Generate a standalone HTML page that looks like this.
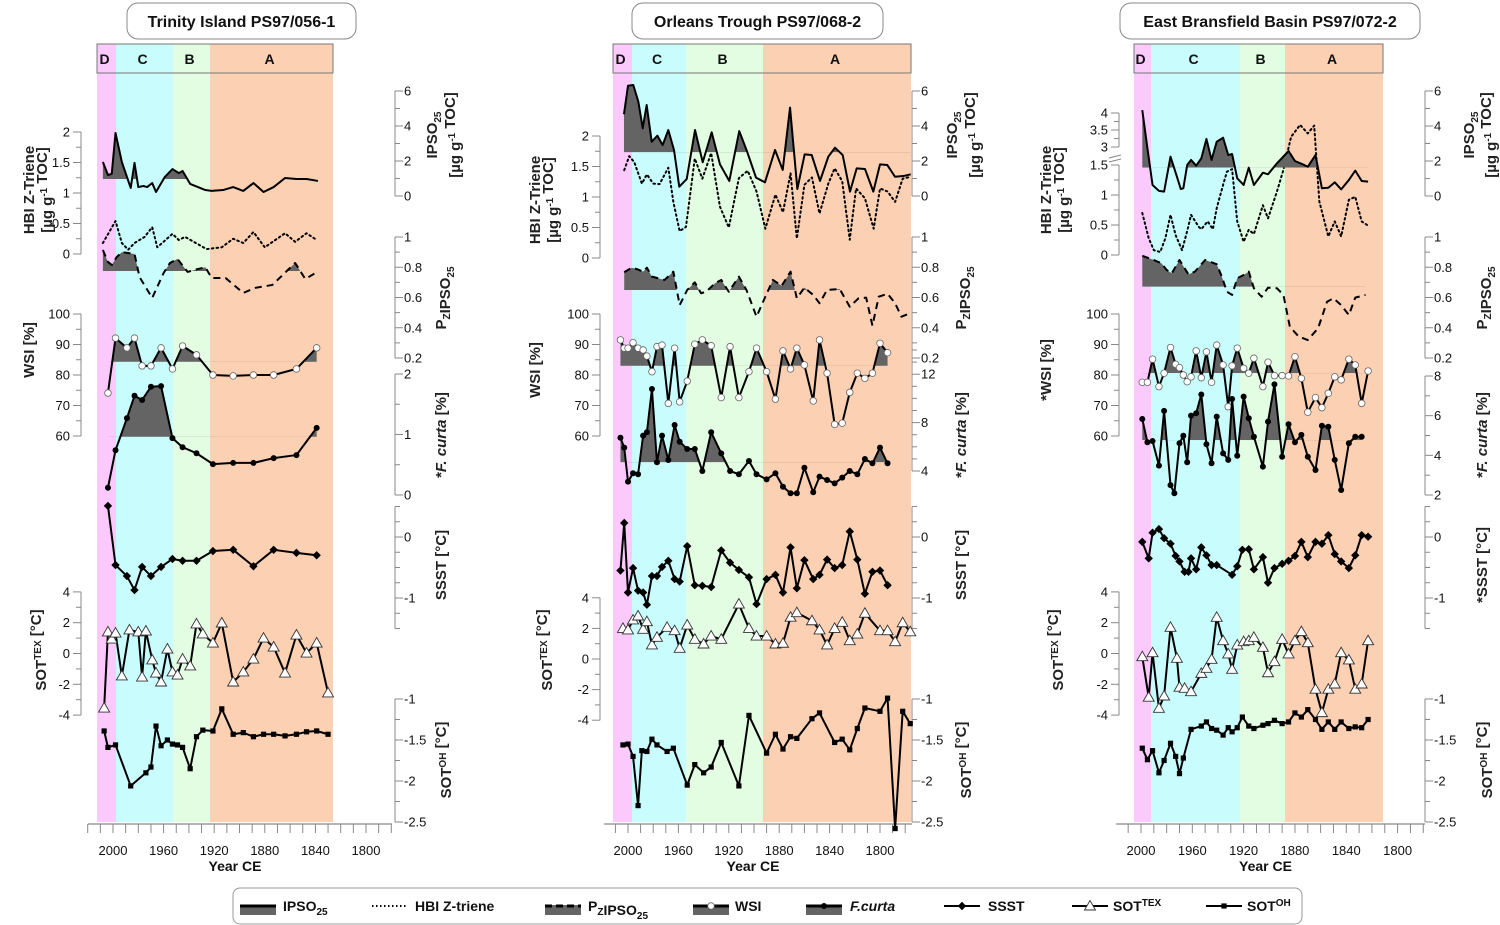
<!DOCTYPE html>
<html><head><meta charset="utf-8"><style>
html,body{margin:0;padding:0;background:#fff}
svg{display:block;font-family:"Liberation Sans",Arial,sans-serif}
</style></head><body>
<svg id="chart" width="1500" height="925" viewBox="0 0 1500 925" xmlns="http://www.w3.org/2000/svg"></svg>
<script>
// ---------- DATA (years CE, values in axis units) ----------
// Panel 1 Trinity Island
const p1IpsoYears=[2008,2004,2001,1998,1993,1986,1983,1980,1976,1973,1969,1966,1959,1953,1948,1945,1939,1927,1922,1913,1905,1897,1889,1881,1873,1864,1855,1847,1838];
const p1IpsoVals=[1.94,1.2,1.26,3.6,1.94,0.46,1.89,0.51,0.57,0.51,0.74,0.23,1.09,1.54,1.31,1.43,0.69,0.34,0.29,0.34,0.51,0.29,0.74,0.23,0.51,1.03,0.97,0.97,0.86];
const p1HbiYears=[2008,1998,1993,1988,1983,1975,1969,1965,1953,1948,1943,1926,1914,1905,1897,1889,1880,1864,1856,1847,1839];
const p1HbiVals=[0.18,0.54,0.18,0.07,0.18,0.28,0.44,0.11,0.33,0.23,0.28,0.08,0.11,0.25,0.18,0.36,0.11,0.34,0.2,0.34,0.23];
const p1PzYears=[2008,2004,2001,1997,1993,1988,1983,1979,1969,1960,1955,1949,1941,1933,1927,1922,1911,1897,1888,1874,1862,1856,1848,1840];
const p1PzVals=[0.914,0.835,0.815,0.868,0.90,0.894,0.888,0.735,0.597,0.762,0.828,0.855,0.769,0.788,0.80,0.729,0.729,0.63,0.663,0.683,0.78,0.828,0.722,0.762];
const p1WsiYears=[2004,1998,1989,1983,1977,1970,1962,1953,1945,1934,1921,1905,1889,1873,1855,1839];
const p1WsiVals=[74.1,92.1,88.9,92.1,83.0,83.0,88.9,82,89.5,86.6,80,79.7,80,80,82,88.9];
const p1FcVals=[0.12,0.74,1.27,1.64,1.57,1.79,1.80,0.94,0.79,0.69,0.51,0.53,0.53,0.61,0.66,1.11];
const p1SsstYears=[2004,1998,1989,1983,1977,1970,1962,1953,1945,1934,1921,1905,1889,1873,1855,1839];
const p1SsstVals=[0.51,-0.46,-0.64,-0.87,-0.49,-0.64,-0.49,-0.36,-0.39,-0.39,-0.23,-0.21,-0.48,-0.21,-0.26,-0.30];
const p1TexYears=[2007,2004,2001,1998,1993,1987,1980,1977,1974,1969,1966,1962,1957,1953,1949,1945,1939,1934,1929,1921,1914,1905,1897,1889,1881,1873,1864,1855,1847,1839,1830];
const p1TexVals=[-3.54,1.4,0.94,1.33,-1.46,1.53,1.4,-1.53,1.46,-0.42,-1.27,-1.85,0.29,-1.2,-1.4,-0.36,-0.81,1.92,1.27,0.68,1.98,-1.85,-1.2,-0.36,1.0,0.42,-1.27,1.2,0.03,0.68,-2.56];
const p1OhYears=[2007,2004,1998,1986,1974,1970,1966,1962,1957,1953,1949,1945,1939,1934,1929,1921,1914,1905,1897,1889,1881,1873,1864,1855,1847,1839,1830];
const p1OhVals=[-1.39,-1.59,-1.56,-2.06,-1.9,-1.83,-1.33,-1.57,-1.5,-1.55,-1.56,-1.59,-1.85,-1.46,-1.38,-1.39,-1.12,-1.43,-1.41,-1.46,-1.43,-1.43,-1.45,-1.43,-1.40,-1.39,-1.43];
// Panel 2 Orleans Trough
const p2IpsoYears=[2003.2,2000,1995.8,1991.8,1988.3,1985.2,1981.2,1976.7,1972.5,1968,1963.5,1959.3,1953.4,1946.8,1940.7,1933.6,1927,1919.6,1911.7,1905.3,1898.4,1891.3,1883.3,1877.2,1871.4,1865.6,1859.8,1854.2,1847.6,1841,1835.7,1829.6,1823.8,1818.5,1811.9,1805.3,1800,1794.2,1788.1,1781.5,1775.6];
const p2IpsoVals=[4.67,6.3,6.34,5.39,3.87,5.2,3.1,3.45,2.91,3.77,2.63,0.53,0.97,3.77,1.93,3.64,1.81,0.86,3.71,2.5,1.05,0.78,2.63,1.49,5.05,0.4,2.38,2.34,0.86,2.25,2.76,2.34,0.25,1.58,1.54,0.25,1.81,1.77,1.1,1.14,1.24];
const p2HbiYears=[2003,1999,1995,1989,1985,1980,1975,1968,1964,1959,1954,1947,1941,1934,1927,1920,1912,1905,1898,1891,1883,1877,1871,1866,1860,1854,1848,1841,1836,1830,1824,1819,1812,1805,1800,1794,1788,1782,1776];
const p2HbiVals=[1.44,1.67,1.57,1.22,1.37,1.22,1.21,1.48,0.92,0.44,0.51,1.63,1.3,1.72,0.84,0.5,1.31,1.43,1.09,0.48,1.04,0.75,1.39,0.32,1.2,1.32,0.73,1.22,1.47,1.26,0.3,1.14,0.98,0.48,1.14,1.09,0.92,1.3,1.33];
const p2PzYears=[2003,1997,1993,1988,1985,1981,1976,1971,1964,1959,1953,1947,1942,1938,1931,1926,1920,1912,1906,1898,1891,1885,1878,1871,1866,1860,1853,1848,1842,1832,1824,1817,1811,1806,1801,1794,1788,1783,1776];
const p2PzVals=[0.767,0.797,0.788,0.771,0.797,0.738,0.727,0.716,0.771,0.55,0.65,0.70,0.628,0.638,0.694,0.716,0.638,0.738,0.65,0.473,0.605,0.716,0.678,0.771,0.595,0.665,0.617,0.562,0.65,0.656,0.539,0.595,0.599,0.414,0.605,0.625,0.562,0.473,0.496];
const p2WsiYears=[2006,2003,2000,1996,1992,1988,1985,1981,1977,1973,1968,1963,1959,1953,1947,1941,1934,1926,1919,1912,1904,1898,1890,1883,1877,1871,1866,1860,1853,1848,1842,1836,1830,1824,1818,1812,1806,1800,1794];
const p2WsiVals=[91.5,88.8,88.8,90.6,88.8,88.2,86.2,81.1,89.3,89.8,70.7,88.8,71.2,78.0,90.1,91.5,89.6,72.6,89.3,72.6,81.1,88.8,81.1,72.1,87.9,82.0,88.8,83.3,71.5,91.5,80.6,63.8,64.2,74.3,80.6,78.9,80.6,90.4,87.3];
const p2FcVals=[6.75,5.93,3.12,3.81,3.73,6.92,7.2,10.78,4.72,6.92,4.91,7.8,6.42,5.82,5.82,4.0,7.2,5.46,4.0,3.73,4.83,3.73,3.31,3.81,2.70,2.16,2.16,4.27,2.24,3.53,3.26,2.98,3.45,4.0,3.73,4.99,4.64,5.93,4.64];
const p2SsstVals=[-0.55,0.23,-0.91,-0.51,-0.88,-0.91,-1.11,-0.64,-0.64,-0.49,-0.39,-0.69,-0.73,-0.15,-0.79,-0.80,-0.82,-0.22,-0.42,-0.54,-0.66,-1.10,-0.69,-0.62,-0.91,-0.17,-0.84,-0.38,-0.69,-0.62,-0.37,-0.51,-0.46,0.09,-0.37,-0.93,-0.57,-0.55,-0.79];
const p2TexYears=[2004,2000,1996,1992,1988,1985,1981,1977,1969,1963,1959,1953,1947,1940,1934,1926,1912,1904,1898,1890,1883,1877,1871,1866,1854,1848,1842,1836,1830,1824,1818,1812,1800,1794,1788,1782,1776];
const p2TexVals=[2.0,1.9,2.55,2.81,1.94,2.44,0.92,1.42,2.07,1.85,0.70,2.22,1.29,0.98,1.5,1.29,3.59,2.0,1.5,1.5,0.98,1.03,2.73,3.03,2.5,1.9,0.92,2.0,2.4,1.2,1.63,2.99,1.85,1.85,1.13,2.37,1.78];
const p2OhYears=[2004,2000,1996,1992,1989,1985,1981,1977,1969,1964,1953,1947,1940,1934,1926,1912,1904,1890,1883,1877,1871,1866,1854,1848,1836,1830,1824,1818,1812,1800,1794,1788,1782,1776];
const p2OhVals=[-1.56,-1.55,-1.70,-2.30,-1.63,-1.64,-1.49,-1.56,-1.64,-1.60,-2.05,-1.80,-1.90,-1.83,-1.53,-2.06,-1.20,-1.66,-1.43,-1.61,-1.46,-1.48,-1.24,-1.17,-1.53,-1.49,-1.62,-1.36,-1.11,-1.15,-0.99,-2.58,-1.15,-1.30];
// Panel 3 East Bransfield Basin
const p3IpsoYears=[1999,1995,1991,1986,1982,1977,1973,1969,1967,1964,1961,1957,1953,1949,1945,1941,1936,1932,1929,1925,1920,1916,1912,1905,1901,1894,1885,1880,1874,1870,1864,1859,1854,1849,1844,1838,1833,1828,1823];
const p3IpsoVals=[4.91,2.73,0.63,0.29,0.25,2.25,1.33,0.40,0.44,1.77,2.06,1.73,2.15,3.26,2.06,3.1,3.33,2.34,2.4,1.01,0.63,1.62,0.63,1.33,1.24,1.87,2.57,2.0,1.81,1.67,2.34,0.44,0.47,0.78,0.38,0.91,1.45,0.86,0.82];
const p3HbiYears=[1999,1994,1990,1985,1981,1977,1973,1968,1964,1961,1955,1953,1948,1944,1941,1936,1933,1929,1925,1920,1916,1912,1905,1901,1894,1889,1883,1876,1870,1865,1861,1854,1849,1844,1838,1833,1828,1823];
const p3HbiVals=[0.70,0.28,0.08,0.05,0.28,0.67,0.33,0.08,0.40,0.67,0.47,0.43,0.56,0.43,0.78,1.17,1.39,1.43,0.56,0.22,0.42,0.35,0.83,0.61,1.06,1.42,3.30,3.65,3.40,3.63,0.89,0.31,0.56,0.31,0.92,0.97,0.56,0.49];
const p3PzYears=[1999,1990,1984,1980,1976,1970,1963,1958,1950,1941,1937,1933,1929,1925,1920,1916,1912,1906,1901,1894,1889,1884,1877,1870,1862,1855,1850,1844,1838,1833,1825];
const p3PzVals=[0.876,0.848,0.826,0.782,0.76,0.848,0.753,0.771,0.848,0.82,0.738,0.638,0.617,0.727,0.749,0.771,0.661,0.605,0.665,0.661,0.617,0.407,0.341,0.319,0.396,0.572,0.595,0.55,0.484,0.599,0.617];
const p3WsiYears=[1999,1995,1991,1986,1982,1977,1973,1970,1967,1964,1961,1957,1953,1949,1945,1941,1936,1932,1929,1925,1920,1916,1912,1905,1901,1896,1890,1885,1880,1875,1870,1864,1859,1854,1849,1844,1838,1833,1828,1823];
const p3WsiVals=[77.6,77.6,85.2,76.2,80.6,89.0,83.5,82.4,80.0,77.8,79.4,87.9,79.1,87.6,77.6,89.8,83.3,69.6,83.0,88.8,82.2,80.6,85.5,76.2,84.2,79.8,79.8,79.7,86.0,78.9,67.8,72.6,69.3,74.0,79.4,78.4,85.2,83.3,70.7,81.3];
const p3FcYears=[1999,1995,1991,1986,1982,1977,1974,1970,1967,1964,1961,1957,1953,1949,1945,1941,1936,1932,1929,1925,1920,1916,1912,1905,1901,1896,1890,1885,1880,1875,1870,1864,1859,1854,1849,1844,1838,1833,1828];
const p3FcVals=[5.83,4.66,4.72,3.48,6.24,2.50,2.09,4.61,4.99,3.65,6.0,6.12,7.07,4.56,3.6,5.95,4.1,3.77,6.84,3.98,6.96,5.87,4.94,3.43,5.70,7.58,3.93,5.57,4.66,5.03,3.93,3.26,5.49,5.44,3.77,2.25,4.61,4.94,4.94];
const p3SsstYears=[1999,1994,1991,1986,1982,1977,1973,1970,1966,1963,1961,1957,1953,1949,1945,1941,1929,1925,1921,1916,1912,1905,1901,1896,1890,1885,1880,1875,1870,1864,1859,1854,1849,1844,1838,1833,1828,1823];
const p3SsstVals=[-0.08,-0.35,0.07,0.13,-0.02,-0.11,-0.31,-0.40,-0.57,-0.57,-0.35,-0.53,-0.17,-0.30,-0.46,-0.46,-0.62,-0.48,-0.21,-0.20,-0.53,-0.33,-0.75,-0.51,-0.44,-0.39,-0.31,-0.08,-0.33,-0.08,-0.11,0.03,-0.28,-0.40,-0.51,-0.30,0.03,0.005];
const p3TexYears=[1999,1994,1991,1986,1982,1977,1972,1970,1966,1961,1953,1949,1945,1941,1936,1932,1929,1925,1920,1916,1912,1905,1901,1896,1890,1885,1880,1875,1870,1864,1859,1854,1849,1844,1838,1833,1828,1823];
const p3TexVals=[-0.21,-2.84,0.05,-3.56,-2.76,1.70,-0.31,-2.19,-2.26,-2.48,-1.29,-0.96,-0.38,2.35,0.83,-0.03,-1.03,0.55,0.77,0.83,1.05,0.40,-1.25,-0.53,0.92,-0.03,0.83,1.42,0.70,-2.32,-3.84,-2.32,-1.98,0.05,-0.42,-2.32,-1.98,0.83];
const p3OhYears=[1999,1995,1991,1986,1982,1977,1973,1970,1967,1961,1953,1949,1945,1941,1936,1932,1929,1925,1921,1916,1912,1905,1901,1896,1890,1885,1880,1875,1870,1864,1859,1854,1849,1844,1838,1833,1828,1823];
const p3OhVals=[-1.60,-1.74,-1.63,-1.90,-1.75,-1.54,-1.70,-1.91,-1.72,-1.37,-1.33,-1.28,-1.36,-1.38,-1.44,-1.35,-1.40,-1.35,-1.22,-1.33,-1.36,-1.32,-1.30,-1.26,-1.30,-1.28,-1.17,-1.22,-1.13,-1.25,-1.37,-1.28,-1.37,-1.28,-1.36,-1.34,-1.35,-1.25];
// baselines for grey fills
const p1Bases=[0.97,0.775,84.3,0.96];
const p2Bases=[2.5,0.65,83.0,4.72];
const p3Bases=[1.62,0.671,80.6,4.77];
const titles=['Trinity Island PS97/056-1','Orleans Trough PS97/068-2','East Bransfield Basin PS97/072-2'];
const yearLabels=[2000,1960,1920,1880,1840,1800];

// ---------- LAYOUT ----------
const NS='http://www.w3.org/2000/svg';
const svg=document.getElementById('chart');
function mk(tag,attrs,parent){const e=document.createElementNS(NS,tag);for(const k in attrs)e.setAttribute(k,attrs[k]);(parent||svg).appendChild(e);return e;}
const panels=[
 {x2000:113,k:1.265,ax0:88,ax1:392,la:81,ra:395,zones:[[97,116,'D'],[116,173,'C'],[173,210,'B'],[210,333,'A']],title:[127,356]},
 {x2000:628,k:1.26,ax0:604,ax1:912,la:600,ra:912,zones:[[613,632,'D'],[632,686,'C'],[686,763,'B'],[763,911,'A']],title:[632,883]},
 {x2000:1141,k:1.283,ax0:1116,ax1:1425,la:1119,ra:1425,zones:[[1134,1151,'D'],[1151,1240,'C'],[1240,1285,'B'],[1285,1383,'A']],title:[1120,1420]}
];
const zoneColor={D:'#fbc9fb',C:'#c9fdfd',B:'#e2fde2',A:'#fcd0b2'};
function X(p,yr){return p.x2000+(2000-yr)*p.k;}
const yIpso=v=>196-17.5*v;
const yHbi=[v=>254-61*v, v=>258-61*v, v=>v<=1.5?255-60*v:(v<=3?165-(v-1.5)*12:147-(v-3)*34)];
const yPz=v=>237+(1-v)*151.25;
const yWsi=v=>314+(100-v)*3.05;
const yFc=[v=>495-60.5*v, v=>471-(v-4)*12.1, v=>495-(v-2)*19.83];
const ySsst=v=>537-61*v;
const yTex=[v=>653.5-15.4*v, v=>659-15.3*v, v=>653.5-15.4*v];
const yOh=v=>699+(-1-v)*82;

let clipN=0;
function series(p,name,yrs,vals,yf,st){
  const g=mk('g',{});
  
  
  const pts=yrs.map((yr,i)=>[X(p,yr),yf(vals[i])]);
  if(st.base!==undefined){
    const yb=yf(st.base);clipN++;
    const cp=mk('clipPath',{id:'c'+clipN},g);
    mk('rect',{x:0,y:0,width:1500,height:yb},cp);
    const d='M'+pts[0][0]+','+yb+' '+pts.map(q=>'L'+q[0]+','+q[1]).join(' ')+' L'+pts[pts.length-1][0]+','+yb+' Z';
    const f=mk('path',{d:d,fill:'#646464','clip-path':'url(#c'+clipN+')'},g);
    
    
  }
  const ln=mk('polyline',{points:pts.map(q=>q.join(',')).join(' '),fill:'none',stroke:'#000','stroke-width':st.w||2,'stroke-linejoin':'round','stroke-linecap':st.cap||'butt'},g);
  if(st.dash)ln.setAttribute('stroke-dasharray',st.dash);
  
  
  if(st.marker){pts.forEach(q=>{const m=marker(st.marker,q[0],q[1],g);
    
    });}
}
function marker(t,x,y,g){
  if(t==='cw')return mk('circle',{cx:x,cy:y,r:3.3,fill:'#fff',stroke:'#666','stroke-width':0.8},g);
  if(t==='cb')return mk('circle',{cx:x,cy:y,r:3,fill:'#000'},g);
  if(t==='dm')return mk('path',{d:`M${x},${y-4.2}L${x+4.2},${y}L${x},${y+4.2}L${x-4.2},${y}Z`,fill:'#000'},g);
  if(t==='tw')return mk('path',{d:`M${x},${y-5.5}L${x+5.5},${y+4}L${x-5.5},${y+4}Z`,fill:'#fff',stroke:'#333','stroke-width':0.9},g);
  return mk('rect',{x:x-2.6,y:y-2.6,width:5.2,height:5.2,fill:'#000'},g);
}
function txt(x,y,s,attrs,parent){const t=mk('text',Object.assign({x:x,y:y,'font-size':13,fill:'#111'},attrs||{}),parent);t.innerHTML=s;return t;}
function vaxis(x,yf,ticks,labelTicks,side,name){
  const g=mk('g',{});
  
  
  const ys=ticks.map(yf);
  mk('line',{x1:x,x2:x,y1:Math.min(...ys),y2:Math.max(...ys),stroke:'#888','stroke-width':1},g);
  const dir=side==='l'?-1:1;
  ticks.forEach(v=>{const y=yf(v);const major=labelTicks.includes(v);
    mk('line',{x1:x,x2:x+dir*(major?8:5),y1:y,y2:y,stroke:'#888','stroke-width':1},g);
    if(major){if(side==='l')txt(x-11,y+4.5,String(v),{'text-anchor':'end'},g);else txt(x+9,y+4.5,String(v),{},g);}
  });
}
function rlabel(x,y,html,name){
  const t=mk('text',{x:0,y:0,transform:`translate(${x},${y}) rotate(-90)`,'text-anchor':'middle','font-size':15,'font-weight':'bold',fill:'#222'});
  t.innerHTML=html;
  
  
}
const sub=s=>`<tspan font-size="10" dy="4">${s}</tspan><tspan dy="-4"></tspan>`;
const sup=s=>`<tspan font-size="10" dy="-5">${s}</tspan><tspan dy="5"></tspan>`;
function range(a,b,s){const r=[];for(let v=a;v<=b+1e-9;v+=s)r.push(Math.round(v*100)/100);return r;}

const allData=[
 {ipso:[p1IpsoYears,p1IpsoVals],hbi:[p1HbiYears,p1HbiVals],pz:[p1PzYears,p1PzVals],wsi:[p1WsiYears,p1WsiVals],fc:[p1WsiYears,p1FcVals],ssst:[p1SsstYears,p1SsstVals],tex:[p1TexYears,p1TexVals],oh:[p1OhYears,p1OhVals],b:p1Bases},
 {ipso:[p2IpsoYears,p2IpsoVals],hbi:[p2HbiYears,p2HbiVals],pz:[p2PzYears,p2PzVals],wsi:[p2WsiYears,p2WsiVals],fc:[p2WsiYears,p2FcVals],ssst:[p2WsiYears,p2SsstVals],tex:[p2TexYears,p2TexVals],oh:[p2OhYears,p2OhVals],b:p2Bases},
 {ipso:[p3IpsoYears,p3IpsoVals],hbi:[p3HbiYears,p3HbiVals],pz:[p3PzYears,p3PzVals],wsi:[p3WsiYears,p3WsiVals],fc:[p3FcYears,p3FcVals],ssst:[p3SsstYears,p3SsstVals],tex:[p3TexYears,p3TexVals],oh:[p3OhYears,p3OhVals],b:p3Bases}
];

panels.forEach((p,i)=>{
  const pre='panel'+(i+1)+'-';
  p.zones.forEach(z=>{
    const r=mk('rect',{x:z[0],y:44,width:z[1]-z[0],height:778,fill:zoneColor[z[2]]});
    
    
    const t=txt((z[0]+z[1])/2-2,64,z[2],{'text-anchor':'middle','font-weight':'bold','font-size':14});
    
    
  });
  const hb=mk('rect',{x:p.zones[0][0],y:44,width:p.zones[3][1]-p.zones[0][0],height:29,fill:'none',stroke:'#777','stroke-width':1});
  
  
  const tb=mk('rect',{x:p.title[0],y:3,width:p.title[1]-p.title[0],height:36,rx:11,fill:'#fff',stroke:'#888','stroke-width':1});
  
  
  const tt=txt((p.title[0]+p.title[1])/2,27,titles[i],{'text-anchor':'middle','font-weight':'bold','font-size':16});
  
  
  const xg=mk('g',{});
  
  
  mk('line',{x1:p.ax0,x2:p.ax1,y1:824,y2:824,stroke:'#888','stroke-width':1.2},xg);
  for(let yr=2030;yr>=1760;yr-=10){const x=X(p,yr);if(x<p.ax0-0.5||x>p.ax1+0.5)continue;
    mk('line',{x1:x,x2:x,y1:824,y2:833,stroke:'#888','stroke-width':1},xg);}
  yearLabels.forEach(yr=>txt(X(p,yr),855,String(yr),{'text-anchor':'middle'},xg));
  const xt=txt((p.ax0+p.ax1)/2-5,871,'Year CE',{'text-anchor':'middle','font-weight':'bold','font-size':14});
  
  
  if(i<2) vaxis(p.la,yHbi[i],range(0,2,0.25),[0,0.5,1,1.5,2],'l',pre+'hbi-axis');
  else { vaxis(p.la,yHbi[2],range(0,1.5,0.25),[0,0.5,1,1.5],'l',pre+'hbi-axis-lower'); vaxis(p.la,yHbi[2],range(3,4,0.25),[3,3.5,4],'l',pre+'hbi-axis-upper');
    mk('path',{d:`M${p.la-10},158 L${p.la+2},155 M${p.la-10},162 L${p.la+2},159`,stroke:'#888','stroke-width':1,fill:'none'}); }
  vaxis(p.la,yWsi,range(60,100,5),[60,70,80,90,100],'l',pre+'wsi-axis');
  vaxis(p.la,yTex[i],range(-4,4,1),[-4,-2,0,2,4],'l',pre+'sottex-axis');
  vaxis(p.ra,yIpso,range(0,6,1),[0,2,4,6],'r',pre+'ipso-axis');
  vaxis(p.ra,yPz,range(0.2,1,0.1),[0.2,0.4,0.6,0.8,1],'r',pre+'pzipso-axis');
  if(i===0)vaxis(p.ra,yFc[0],range(0,2,0.5),[0,1,2],'r',pre+'fcurta-axis');
  if(i===1)vaxis(p.ra,yFc[1],range(4,14,1),[4,8,12],'r',pre+'fcurta-axis');
  if(i===2)vaxis(p.ra,yFc[2],range(2,8,1),[2,4,6,8],'r',pre+'fcurta-axis');
  vaxis(p.ra,ySsst,range(-1.5,0.5,0.25),[-1,0],'r',pre+'ssst-axis');
  vaxis(p.ra,yOh,range(-2.5,-1,0.25),[-2.5,-2,-1.5,-1],'r',pre+'sotoh-axis');
  const D=allData[i];
  series(p,pre+'hbi-z-triene',D.hbi[0],D.hbi[1],yHbi[i],{dash:'1.6 3.2',cap:'round'});
  series(p,pre+'ipso25',D.ipso[0],D.ipso[1],yIpso,{base:D.b[0]});
  series(p,pre+'pzipso25',D.pz[0],D.pz[1],yPz,{base:D.b[1],dash:'7 5'});
  series(p,pre+'wsi',D.wsi[0],D.wsi[1],yWsi,{base:D.b[2],marker:'cw'});
  series(p,pre+'fcurta',D.fc[0],D.fc[1],yFc[i],{base:D.b[3],marker:'cb'});
  series(p,pre+'ssst',D.ssst[0],D.ssst[1],ySsst,{marker:'dm'});
  series(p,pre+'sottex',D.tex[0],D.tex[1],yTex[i],{marker:'tw'});
  series(p,pre+'sotoh',D.oh[0],D.oh[1],yOh,{marker:'sq'});
});
const lx=[[34,52],[540,558],[1051,1069]];
const ly=[190,200,190];
[0,1,2].forEach(i=>{
  const pre='panel'+(i+1)+'-';
  rlabel(lx[i][0],ly[i],'HBI Z-Triene',pre+'hbi-axis-title');
  rlabel(lx[i][1],ly[i],'[µg g'+sup('-1')+' TOC]',pre+'hbi-axis-unit');
  rlabel(lx[i][0],i===0?350:370,(i===2?'*':'')+'WSI [%]',pre+'wsi-axis-title');
  rlabel(lx[i][1]-6,650,'SOT'+sup('TEX')+' [°C]',pre+'sottex-axis-title');
});
const rx=[[437,460,446],[957,980,966],[1474,1496,1487]];
[0,1,2].forEach(i=>{
  const pre='panel'+(i+1)+'-';
  rlabel(rx[i][0],135,'IPSO'+sub('25'),pre+'ipso-axis-title');
  rlabel(rx[i][1],135,'[µg g'+sup('-1')+' TOC]',pre+'ipso-axis-unit');
  rlabel(rx[i][2],298,'P'+sub('Z')+'IPSO'+sub('25'),pre+'pzipso-axis-title');
  rlabel(rx[i][2],435,'*<tspan font-style="italic">F. curta</tspan> [%]',pre+'fcurta-axis-title');
  rlabel(rx[i][2],565,(i===2?'*':'')+'SSST [°C]',pre+'ssst-axis-title');
  rlabel(rx[i][2]+5,760,'SOT'+sup('OH')+' [°C]',pre+'sotoh-axis-title');
});
const lg=mk('g',{});


mk('rect',{x:233,y:888,width:1069,height:36,rx:7,fill:'#fff',stroke:'#999','stroke-width':1},lg);
function sw(x,fill,dash,mkType){
  if(fill)mk('rect',{x:x,y:905,width:36,height:10,fill:'#646464'},lg);
  const l=mk('line',{x1:x,x2:x+36,y1:906,y2:906,stroke:'#000','stroke-width':fill?3:2},lg);
  if(dash)l.setAttribute('stroke-dasharray',dash);
  if(mkType)marker(mkType,x+18,906,lg);
}
const leg=[[240,true,null,null,'IPSO'+sub('25'),283],[372,false,'1.5 2.5',null,'HBI Z-triene',415],[545,true,'7 4',null,'P'+sub('Z')+'IPSO'+sub('25'),588],[693,true,null,'cw','WSI',735],[806,true,null,'cb','<tspan font-style="italic">F.curta</tspan>',850],[944,false,null,'dm','SSST',988],[1072,false,null,'tw','SOT'+sup('TEX'),1113],[1206,false,null,'sq','SOT'+sup('OH'),1247]];
leg.forEach((e,j)=>{sw(e[0],e[1],e[2],e[3]);
  const t=txt(e[5],911,e[4],{'font-weight':'bold','font-size':14},lg);
  
  
});
</script>
</body></html>
